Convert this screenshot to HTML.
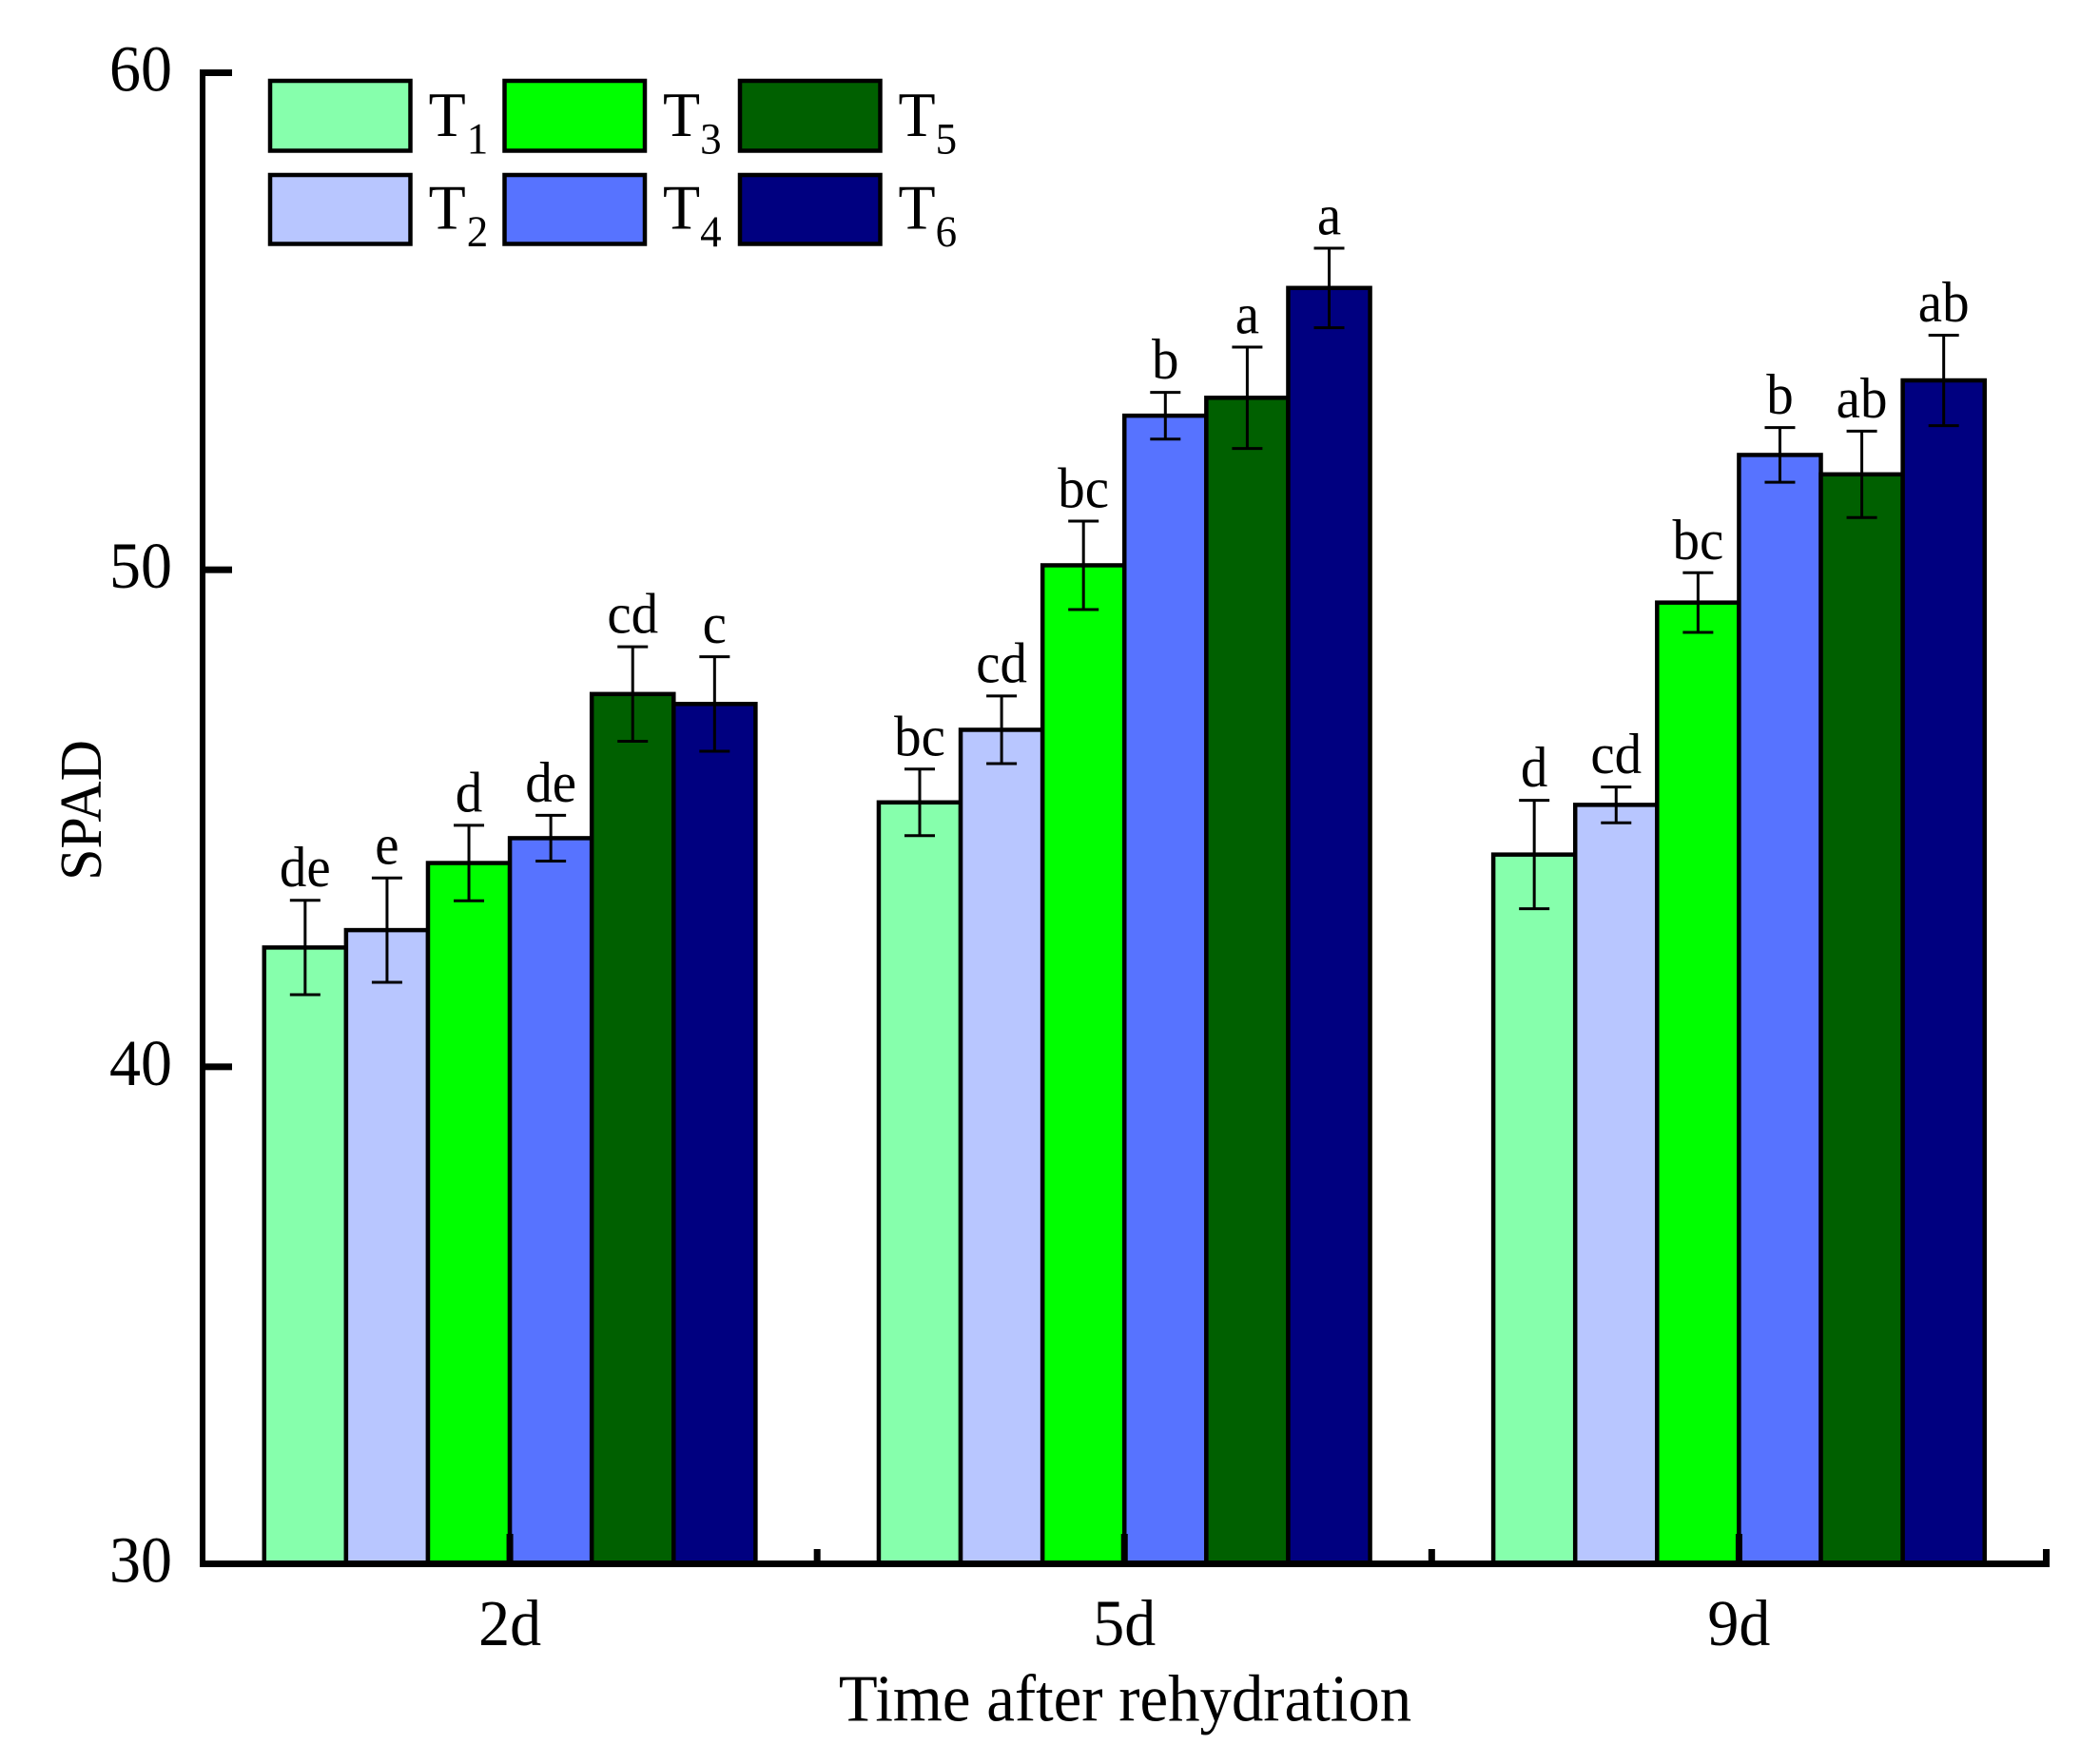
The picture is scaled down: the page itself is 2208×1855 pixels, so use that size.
<!DOCTYPE html>
<html lang="en">
<head>
<meta charset="utf-8">
<title>SPAD after rehydration</title>
<style>
html,body{margin:0;padding:0;background:#fff;}
svg{display:block;}
text{font-family:"Liberation Serif","Times New Roman",serif;fill:#000;}
.s0{fill:#86FFAC;}
.s1{fill:#B8C6FF;}
.s2{fill:#00FF00;}
.s3{fill:#5773FF;}
.s4{fill:#006000;}
.s5{fill:#000080;}
.bar,.swatch{stroke:#000;stroke-width:4.5;}
.err{stroke:#000;stroke-width:3;fill:none;}
.tick-label,.cat-label{font-size:66px;}
.axis-title{font-size:66.8px;}
.letter{font-size:57px;text-anchor:middle;}
.leg{font-size:64px;}
.leg-sub{font-size:45px;}
</style>
</head>
<body>
<svg id="chart" xmlns="http://www.w3.org/2000/svg" width="2208" height="1855" viewBox="0 0 2208 1855">
  <rect x="0" y="0" width="2208" height="1855" fill="#fff"/>
  <g id="bars"></g>
  <g id="errors"></g>
  <g id="letters"></g>
  <g id="axes"></g>
  <text class="axis-title" transform="translate(1183,1809.5) scale(1,1.05)" text-anchor="middle">Time after rehydration</text>
  <text class="axis-title" style="font-size:60px" transform="translate(106,852) rotate(-90) scale(1,1.05)" text-anchor="middle">SPAD</text>
  <g>
    <g>
      <rect class="swatch s0" x="284" y="85" width="147.5" height="73.5"/>
      <text transform="translate(450.6,143) scale(1,1.04)"><tspan class="leg">T</tspan><tspan class="leg-sub" dx="1" dy="18">1</tspan></text>
    </g>
    <g>
      <rect class="swatch s2" x="530.5" y="85" width="147.5" height="73.5"/>
      <text transform="translate(697,143) scale(1,1.04)"><tspan class="leg">T</tspan><tspan class="leg-sub" dx="0" dy="18">3</tspan></text>
    </g>
    <g>
      <rect class="swatch s4" x="778" y="85" width="147.5" height="73.5"/>
      <text transform="translate(944.5,143) scale(1,1.04)"><tspan class="leg">T</tspan><tspan class="leg-sub" dx="0" dy="18">5</tspan></text>
    </g>
    <g>
      <rect class="swatch s1" x="284" y="184" width="147.5" height="72.5"/>
      <text transform="translate(450.6,240.5) scale(1,1.04)"><tspan class="leg">T</tspan><tspan class="leg-sub" dx="1" dy="18">2</tspan></text>
    </g>
    <g>
      <rect class="swatch s3" x="530.5" y="184" width="147.5" height="72.5"/>
      <text transform="translate(697,240.5) scale(1,1.04)"><tspan class="leg">T</tspan><tspan class="leg-sub" dx="0" dy="18">4</tspan></text>
    </g>
    <g>
      <rect class="swatch s5" x="778" y="184" width="147.5" height="72.5"/>
      <text transform="translate(944.5,240.5) scale(1,1.04)"><tspan class="leg">T</tspan><tspan class="leg-sub" dx="0" dy="18">6</tspan></text>
    </g>
  </g>
</svg>
<script>
const categories = ['2d', '5d', '9d'];
const seriesNames = ['T1', 'T2', 'T3', 'T4', 'T5', 'T6'];
const t1Values = [42.4, 45.32, 44.27];
const t2Values = [42.75, 46.78, 45.27];
const t3Values = [44.1, 50.09, 49.34];
const t4Values = [44.6, 53.1, 52.31];
const t5Values = [47.5, 53.46, 51.92];
const t6Values = [47.3, 55.67, 53.81];
const t1Errors = [0.95, 0.67, 1.09];
const t2Errors = [1.05, 0.68, 0.36];
const t3Errors = [0.76, 0.89, 0.6];
const t4Errors = [0.46, 0.47, 0.55];
const t5Errors = [0.95, 1.02, 0.87];
const t6Errors = [0.95, 0.8, 0.91];
const t1Letters = ['de', 'bc', 'd'];
const t2Letters = ['e', 'cd', 'cd'];
const t3Letters = ['d', 'bc', 'bc'];
const t4Letters = ['de', 'b', 'b'];
const t5Letters = ['cd', 'a', 'ab'];
const t6Letters = ['c', 'a', 'ab'];
const yTicks = [30, 40, 50, 60];

const allValues = [t1Values, t2Values, t3Values, t4Values, t5Values, t6Values];
const allErrors = [t1Errors, t2Errors, t3Errors, t4Errors, t5Errors, t6Errors];
const allLetters = [t1Letters, t2Letters, t3Letters, t4Letters, t5Letters, t6Letters];

const NS = 'http://www.w3.org/2000/svg';
const plot = { left: 213, right: 2151.5, top: 76.5, bottom: 1644.5, yMin: 30, yMax: 60 };
const band = (plot.right - plot.left) / categories.length;
const barWidth = 86.1;
const capHalf = 16;

function yScale(v) {
  return plot.bottom - (v - plot.yMin) / (plot.yMax - plot.yMin) * (plot.bottom - plot.top);
}
function xCenter(i) {
  return plot.left + (i + 0.5) * band;
}
function xBar(i, s) {
  return xCenter(i) + (s - seriesNames.length / 2) * barWidth;
}
function make(tag, parent, attrs) {
  const el = document.createElementNS(NS, tag);
  Object.keys(attrs).forEach(function (k) { el.setAttribute(k, attrs[k]); });
  parent.appendChild(el);
  return el;
}
function stretch(x, y, k) {
  return 'translate(' + x + ',' + y + ') scale(1,' + k + ')';
}

const barsG = document.getElementById('bars');
const errorsG = document.getElementById('errors');
const lettersG = document.getElementById('letters');
const axesG = document.getElementById('axes');

categories.forEach(function (cat, i) {
  seriesNames.forEach(function (name, s) {
    const v = allValues[s][i];
    const e = allErrors[s][i];
    const x = xBar(i, s);
    const cx = x + barWidth / 2;
    const top = yScale(v);
    const hi = yScale(v + e);
    const lo = yScale(v - e);

    const bar = make('rect', barsG, { x: x, y: top, width: barWidth, height: plot.bottom - top, class: 'bar s' + s });
    
    

    const err = make('path', errorsG, {
      class: 'err',
      d: 'M' + (cx - capHalf) + ' ' + hi + 'H' + (cx + capHalf) + 'M' + cx + ' ' + hi + 'V' + lo + 'M' + (cx - capHalf) + ' ' + lo + 'H' + (cx + capHalf)
    });
    
    

    const letter = make('text', lettersG, { transform: stretch(cx, hi - 14.5, 1.05), class: 'letter' });
    letter.textContent = allLetters[s][i];
    
    
  });
});

const yAxisLine = make('rect', axesG, { x: plot.left - 3, y: plot.top - 3.5, width: 6, height: plot.bottom - plot.top + 7, fill: '#000' });



const xAxisLine = make('rect', axesG, { x: plot.left - 3, y: plot.bottom - 3.5, width: plot.right - plot.left + 6.5, height: 7, fill: '#000' });



yTicks.forEach(function (t) {
  const y = yScale(t);
  const tick = make('rect', axesG, { x: plot.left, y: y - 3.5, width: 31, height: 7, fill: '#000' });
  
  
  const lab = make('text', axesG, { transform: stretch(181, y + 19, 1.05), 'text-anchor': 'end', class: 'tick-label' });
  lab.textContent = String(t);
  
  
});

categories.forEach(function (cat, i) {
  const cx = xCenter(i);
  const tick = make('rect', axesG, { x: cx - 3.5, y: plot.bottom - 31.5, width: 7, height: 31.5, fill: '#000' });
  
  
  const lab = make('text', axesG, { transform: stretch(cx, 1730, 1.05), 'text-anchor': 'middle', class: 'cat-label' });
  lab.textContent = cat;
  
  
});

for (let i = 1; i <= categories.length; i++) {
  const edge = plot.left + i * band;
  const minor = make('rect', axesG, { x: edge - 3.5, y: plot.bottom - 15.5, width: 7, height: 15.5, fill: '#000' });
  
  
}
</script>
</body>
</html>
